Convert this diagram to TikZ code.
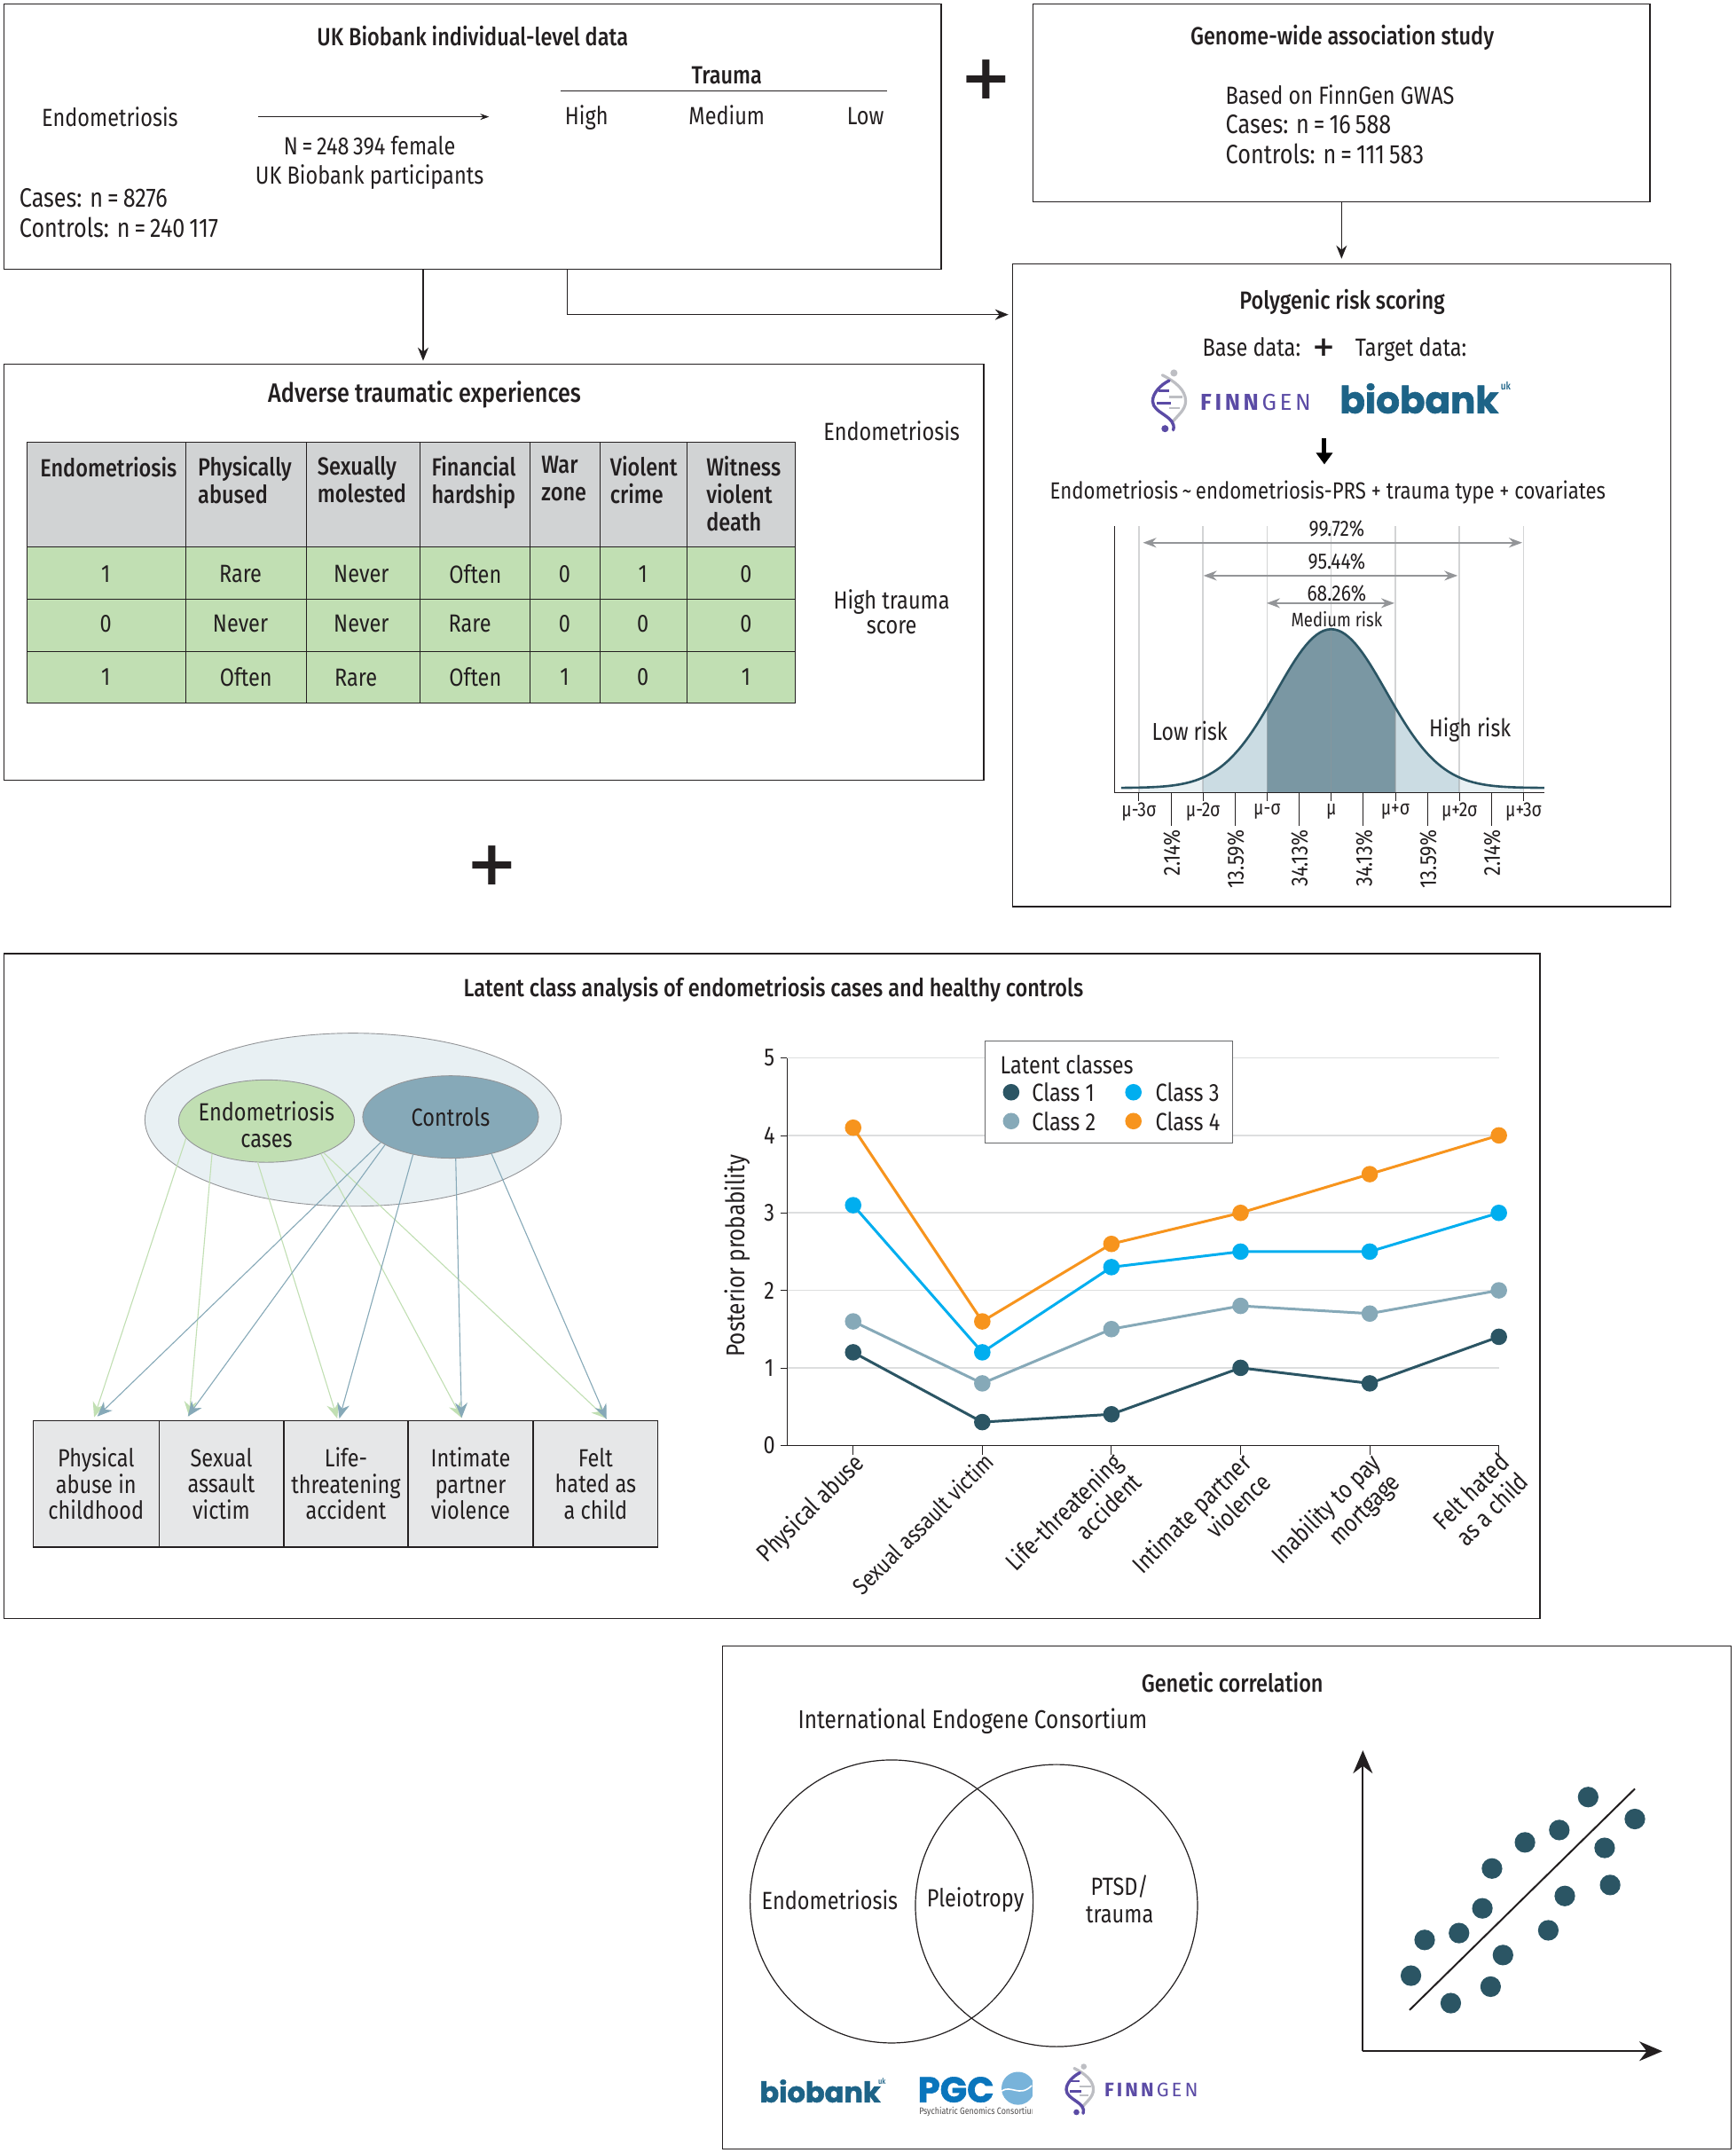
\documentclass[tikz,border=0pt]{standalone}
\usepackage{fontspec}
\setmainfont[FakeStretch=0.84,BoldFont={Fira Sans Medium}]{Fira Sans}
\newfontfamily\plusfont{DejaVu Sans}
\newfontfamily\finnfont[LetterSpace=14]{Fira Sans}
\newfontfamily\bioffont[BoldFeatures={FakeBold=1.6}]{Poppins}
\usetikzlibrary{arrows.meta,fit,shapes.geometric,calc}
\definecolor{ink}{HTML}{231F20}
\definecolor{teal}{HTML}{2B5564}
\definecolor{steel}{HTML}{86A9B8}
\definecolor{sky}{HTML}{00AEEF}
\definecolor{orng}{HTML}{F7941D}
\definecolor{leaf}{HTML}{C1DFB3}
\definecolor{headg}{HTML}{D1D3D4}
\definecolor{boxg}{HTML}{E6E7E8}
\definecolor{pale}{HTML}{E8F0F3}
\definecolor{bell2}{HTML}{CBDCE3}
\definecolor{bell1}{HTML}{7A97A3}
\definecolor{gridg}{HTML}{DDDEDF}
\definecolor{midg}{HTML}{939598}
\definecolor{fpurple}{HTML}{5B4BA5}
\definecolor{fgray}{HTML}{BDBEC3}
\definecolor{biob}{HTML}{1D6387}
\definecolor{pgcb}{HTML}{0A75BC}
\newcommand\fnorm{\fontsize{28}{33.5}\selectfont}
\newcommand\fhead{\fontsize{28}{31}\selectfont}
\newcommand\fnum{\fontsize{30}{33.5}\selectfont}
\newcommand\fsmall{\fontsize{25}{27}\selectfont}
\newcommand\frot{\fontsize{26}{27}\selectfont}
\newcommand\fmu{\fontsize{23}{24}\selectfont}
\tikzset{
 panel/.style={draw=ink,line width=1.4pt,inner sep=0pt,fill=white},
 tx/.style={font=\fnorm,text=ink,inner sep=0pt,align=center},
 txl/.style={tx,anchor=west,align=left},
 ttl/.style={tx,font=\fnorm\bfseries},
 hd/.style={tx,font=\fhead\bfseries,anchor=north west,align=left},
 sm/.style={tx,font=\fsmall},
 rot/.style={tx,font=\frot,rotate=90,anchor=east},
 tn/.style={tx,font=\fmu},
 arr/.style={draw=ink,line width=1.4pt,-{Stealth[length=15pt,width=12pt]}},
 garr/.style={draw=midg,line width=1.5pt,{Stealth[length=15pt,width=11pt]}-{Stealth[length=15pt,width=11pt]}},
 gline/.style={draw=leaf,line width=1.1pt,-{Stealth[length=17pt,width=14pt]}},
 bline/.style={draw=steel,line width=1.1pt,-{Stealth[length=17pt,width=14pt]}},
 ell/.style={ellipse,draw=midg,line width=.9pt,inner sep=0pt},
 vbox/.style={rectangle,draw=ink,line width=1.3pt,fill=boxg,font=\fontsize{28}{29.5}\selectfont,text=ink,align=center,inner sep=0pt,minimum height=142.5pt},
 bigplus/.style={font=\plusfont\bfseries\fontsize{70}{70}\selectfont,text=ink,inner sep=0pt},
 smplus/.style={font=\plusfont\bfseries\fontsize{31}{31}\selectfont,text=ink,inner sep=0pt},
 biolabel/.style={text=biob,inner sep=0pt},
 finnpic/.pic={
  \draw[fgray,line width=3.2pt,line cap=round] (-5,-19) .. controls (5,-14) and (12,-8) .. (12,0) .. controls (12,7) and (5,11) .. (2,16);
  \fill[fgray] (3.5,-20.5) circle (2.6);
  \draw[fgray,line width=2.4pt] (0,-3) -- (10,-3) (0,5) -- (8,5);
  \draw[fpurple,line width=3.4pt,line cap=round] (0,-15) .. controls (-6,-12) and (-12,-6) .. (-12,0) .. controls (-12,9) and (6,11) .. (3,21);
  \fill[fpurple] (-3,20) circle (2.6);
  \draw[fpurple,line width=2.4pt] (-8,-7.5) -- (0,-7.5) (-9,1.5) -- (1,1.5);
 }
}
\newcommand\series[7]{%
 \draw[draw=#1,line width=3pt] (621,#2) -- (715,#3) -- (809,#4) -- (903,#5) -- (997,#6) -- (1091,#7);
 \fill[#1] (621,#2) circle (6) (715,#3) circle (6) (809,#4) circle (6) (903,#5) circle (6) (997,#6) circle (6) (1091,#7) circle (6);
}
\begin{document}
\begin{tikzpicture}[x=1.5487pt,y=-1.5487pt]
\useasboundingbox (0,0) rectangle (1263,1567.1);
\fill[white] (0,0) rectangle (1263,1567.1);
% panels
\node[panel,fit={(3,3)(685,196)}] (uk) {};
\node[panel,fit={(752,3)(1201,147)}] (gwas) {};
\node[panel,fit={(737,192)(1216,660)}] (prs) {};
\node[panel,fit={(3,265)(716,568)}] (ate) {};
\node[panel,fit={(3,694)(1121,1178)}] (lca) {};
\node[panel,fit={(526,1198)(1260,1564)}] (gc) {};
% UK Biobank
\node[ttl] (uktitle) at (344,26.5) {UK Biobank individual-level data};
\node[tx] (ukendo) at (80,85) {Endometriosis};
\node[tx] (ukn) at (269,118.5) {N\,=\,248\,394 female\\UK Biobank participants};
\node[txl,font=\fnum] (ukcases) at (14,155) {Cases: n\,=\,8276\\Controls: n\,=\,240\,117};
\node[ttl] (ukt) at (529,55) {Trauma};
\node[tx,anchor=base] (ukhi) at (427,91) {High};
\node[tx,anchor=base] (ukme) at (529,91) {Medium};
\node[tx,anchor=base] (uklo) at (630,91) {Low};
\coordinate (ukla) at (408,66); \coordinate (uklb) at (646,66);
\draw[draw=ink,line width=.8pt] (ukla) -- (uklb);
\coordinate (uka) at (188,85); \coordinate (ukb) at (356,85);
\draw[draw=ink,line width=.8pt,-{Stealth[length=10pt,width=7pt]}] (uka) -- (ukb);
% GWAS
\node[ttl] (gwtitle) at (977,27.5) {Genome-wide association study};
\node[txl,font=\fnum] (gwtext) at (892,90.5) {\fontsize{28}{33.5}\selectfont Based on FinnGen GWAS\\Cases: n\,=\,16\,588\\Controls: n\,=\,111\,583};
% pluses
\node[bigplus] (p1) at (718,58) {+};
\node[bigplus] (p2) at (358,630) {+};
% connectors
\coordinate (ua) at (308,196);
\draw[arr,shorten >=3pt] (ua) -- (ua |- ate.north);
\coordinate (ub) at (413,196); \coordinate (ubb) at (734,229);
\draw[arr] (ub) |- (ubb);
\draw[arr,shorten >=5pt] (gwas.south) -- (prs.north);
% ATE
\node[tx,font=\fontsize{30}{33}\selectfont\bfseries] (atetitle) at (309,287) {Adverse traumatic experiences};
\fill[headg] (19.5,322) rectangle (579,398);
\fill[leaf] (19.5,398) rectangle (579,512);
\draw[draw=ink,line width=1pt] (19.5,322) rectangle (579,512);
\foreach \yy in {398,436,474} \draw[draw=ink,line width=1pt] (19.5,\yy) -- (579,\yy);
\foreach \xx in {135,223,306,386,437,500} \draw[draw=ink,line width=1pt] (\xx,322) -- (\xx,512);
\begin{scope}[every node/.style={tx}]
\node[ttl] (h0) at (79,340) {Endometriosis};
\node[hd] (h1) at (144,332) {Physically\\abused};
\node[hd] (h2) at (231,332) {Sexually\\molested};
\node[hd] (h3) at (314,332) {Financial\\hardship};
\node[hd] (h4) at (394,332) {War\\zone};
\node[hd] (h5) at (444,332) {Violent\\crime};
\node[hd] (h6) at (514,332) {Witness\\violent\\death};
\node (r1a) at (77,418) {1}; \node (r1b) at (175,418) {Rare}; \node (r1c) at (263,418) {Never}; \node (r1d) at (346,418) {Often}; \node (r1e) at (411,418) {0}; \node (r1f) at (468,418) {1}; \node (r1g) at (543,418) {0};
\node (r2a) at (77,454) {0}; \node (r2b) at (175,454) {Never}; \node (r2c) at (263,454) {Never}; \node (r2d) at (342,454) {Rare}; \node (r2e) at (411,454) {0}; \node (r2f) at (468,454) {0}; \node (r2g) at (543,454) {0};
\node (r3a) at (77,493) {1}; \node (r3b) at (179,493) {Often}; \node (r3c) at (259,493) {Rare}; \node (r3d) at (346,493) {Often}; \node (r3e) at (411,493) {1}; \node (r3f) at (468,493) {0}; \node (r3g) at (543,493) {1};
\end{scope}
\node[tx] (ateendo) at (649,313.5) {Endometriosis};
\node[tx,font=\fontsize{28}{28}\selectfont] (atehigh) at (649,445.5) {High trauma\\score};
% PRS
\node[ttl] (prstitle) at (977,220) {Polygenic risk scoring};
\node[tx,anchor=base] (base) at (911,259) {Base data:};
\node[smplus] (p3) at (964,253) {+};
\node[tx,anchor=base] (target) at (1027,259) {Target data:};
\pic at (851,292) {finnpic};
\node[inner sep=0pt,text=fpurple,font=\finnfont\fontsize{26}{26}\selectfont] (finn1) at (914,293) {\textbf{FINN}GEN};
\node[biolabel,font=\bioffont\bfseries\fontsize{42}{42}\selectfont] (bio1) at (1033,290) {biobank};
\node[inner sep=0pt,text=biob,font=\bfseries\fontsize{12}{12}\selectfont] (bio1uk) at (1096,281) {uk};
\coordinate (da) at (964,319); \coordinate (db) at (964,338);
\draw[draw=black,line width=5pt,-{Triangle[length=13pt,width=18pt]}] (da) -- (db);
\node[tx,font=\fontsize{26.4}{30}\selectfont] (formula) at (966.5,358.5) {Endometriosis\,\textasciitilde\,endometriosis-PRS + trauma type + covariates};
% bell curve
\newcommand\bell{573.5-115.5*exp(-((\x-969)/40)*((\x-969)/40)/2)}
\fill[pale] plot[domain=829:1109,samples=70] (\x,{\bell}) -- (1109,577) -- (829,577) -- cycle;
\fill[bell2] plot[domain=875.7:1062.3,samples=60] (\x,{\bell}) -- (1062.3,577) -- (875.7,577) -- cycle;
\fill[bell1] plot[domain=922.3:1015.7,samples=50] (\x,{\bell}) -- (1015.7,577) -- (922.3,577) -- cycle;
\foreach \xx in {829,875.7,922.3,969,1015.7,1062.3,1109} {
 \draw[draw=midg,opacity=.4,line width=1.5pt] (\xx,383) -- (\xx,577);
 \draw[draw=ink,line width=.9pt] (\xx,577) -- (\xx,583);
}
\draw[draw=teal,line width=2.6pt] plot[domain=816:1124,samples=120] (\x,{\bell});
\draw[draw=ink,line width=1pt] (811,383) -- (811,577) -- (1124,577);
\foreach \xx in {852.5,899,945.7,992.3,1038.9,1085.6} \draw[draw=ink,line width=.9pt] (\xx,577) -- (\xx,601);
\node[sm] (l99) at (973,385) {99.72\%};
\node[sm] (l95) at (973,409) {95.44\%};
\node[sm] (l68) at (973,432) {68.26\%};
\node[tx,font=\fontsize{22}{24}\selectfont] (lmed) at (973,451) {Medium risk};
\coordinate (a99) at (832,395); \coordinate (b99) at (1108,395);
\coordinate (a95) at (876,419); \coordinate (b95) at (1061,419);
\coordinate (a68) at (922,439); \coordinate (b68) at (1015,439);
\draw[garr] (a99) -- (b99); \draw[garr] (a95) -- (b95); \draw[garr] (a68) -- (b68);
\node[tx,font=\fontsize{27.5}{28}\selectfont] (lowr) at (866,532) {Low risk};
\node[tx,font=\fontsize{27.5}{28}\selectfont] (highr) at (1070,531) {High risk};
\node[tn] (m1) at (829,591) {μ-3σ};
\node[tn] (m2) at (875.7,591) {μ-2σ};
\node[tn] (m3) at (922.3,591) {μ-σ};
\node[tn] (m4) at (969,591) {μ};
\node[tn] (m5) at (1015.7,591) {μ+σ};
\node[tn] (m6) at (1062.3,591) {μ+2σ};
\node[tn] (m7) at (1109,591) {μ+3σ};
\node[rot] (q1) at (853,604) {2.14\%};
\node[rot] (q2) at (899.5,604) {13.59\%};
\node[rot] (q3) at (946,604) {34.13\%};
\node[rot] (q4) at (993,604) {34.13\%};
\node[rot] (q5) at (1039.5,604) {13.59\%};
\node[rot] (q6) at (1086,604) {2.14\%};
% LCA
\node[ttl] (lcatitle) at (563,720) {Latent class analysis of endometriosis cases and healthy controls};
\node[ell,fill=pale,minimum width=469.3pt,minimum height=195.1pt] (outer) at (257,815) {};
\node[ell,fill=leaf,minimum width=198.2pt,minimum height=92.9pt] (endo) at (194,816) {};
\node[tx,font=\fontsize{28}{29.5}\selectfont] (endot) at (194,818.5) {Endometriosis\\cases};
\node[ell,fill=steel,minimum width=198.2pt,minimum height=92.9pt,font=\fnorm,text=ink] (ctrl) at (328,813) {Controls};
\node[vbox,minimum width=142pt] (v1) at (69.9,1080) {Physical\\abuse in\\childhood};
\node[vbox,minimum width=140.6pt] (v2) at (161.1,1080) {Sexual\\assault\\victim};
\node[vbox,minimum width=140.2pt] (v3) at (251.8,1080) {Life-\\threatening\\accident};
\node[vbox,minimum width=140.9pt] (v4) at (342.5,1080) {Intimate\\partner\\violence};
\node[vbox,minimum width=140.9pt] (v5) at (433.5,1080) {Felt\\hated as\\a child};
\coordinate (tg1) at (68.5,1031.6); \coordinate (tg2) at (137.7,1031);
\coordinate (tg3) at (245.5,1032.5); \coordinate (tg4) at (336,1032);
\coordinate (tg5) at (441.5,1032.5);
\coordinate (tb1) at (70.8,1031); \coordinate (tb2) at (136.7,1031);
\coordinate (tb3) at (247,1032.5); \coordinate (tb4) at (336,1032);
\coordinate (tb5) at (441.5,1033);
\draw[gline] (endo.192) -- (tg1);
\draw[gline] (endo.211) -- (tg2);
\draw[gline] (endo.258.6) -- (tg3);
\draw[gline] (endo.329) -- (tg4);
\draw[gline] (endo.331) -- (tg5);
\draw[bline] (ctrl.200.8) -- (tb1);
\draw[bline] (ctrl.203.6) -- (tb2);
\draw[bline] (ctrl.225.6) -- (tb3);
\draw[bline] (ctrl.277) -- (tb4);
\draw[bline] (ctrl.318) -- (tb5);
% chart
\foreach \v in {1,2,3,4,5}{
 \draw[draw=gridg,line width=1.5pt] (573,{1052-56.4*\v}) -- (1091,{1052-56.4*\v});
}
\foreach \v in {0,...,5}{
 \draw[draw=ink,line width=.7pt] (568,{1052-56.4*\v}) -- (573,{1052-56.4*\v});
 \node[tx] (yl\v) at (560,{1052-56.4*\v}) {\v};
}
\draw[draw=ink,line width=1pt] (573,770) -- (573,1052) -- (1091,1052);
\foreach \xx in {621,715,809,903,997,1091} \draw[draw=ink,line width=.9pt] (\xx,1052) -- (\xx,1059);
\node[tx,rotate=90,font=\fontsize{29}{30}\selectfont] (yaxis) at (537,914) {Posterior probability};
\series{teal}{984.3}{1035.1}{1029.4}{995.6}{1006.9}{973}
\series{steel}{961.8}{1006.9}{967.4}{950.5}{956.1}{939.2}
\series{sky}{877.2}{984.3}{922.3}{911}{911}{882.8}
\series{orng}{820.8}{961.8}{905.4}{882.8}{854.6}{826.4}
\node[draw=midg!70!black,line width=1pt,fill=white,inner sep=0pt,fit={(717,758)(897,832)}] (legend) {};
\node[txl] (legt) at (728,775) {Latent classes};
\fill[teal] (736,795) circle (6); \fill[steel] (736,816) circle (6);
\fill[sky] (825,795) circle (6); \fill[orng] (825,816) circle (6);
\node[txl] (c1) at (751,795) {Class 1};
\node[txl] (c2) at (751,816) {Class 2};
\node[txl] (c3) at (841,795) {Class 3};
\node[txl] (c4) at (841,816) {Class 4};
\begin{scope}[every node/.style={tx,font=\fontsize{28}{31}\selectfont,rotate=45,anchor=north east,align=right}]
\node (x1) at (620,1056) {Physical abuse};
\node[font=\fontsize{26.5}{31}\selectfont] (x2) at (715,1056) {Sexual assault victim};
\node (x3) at (808,1056) {Life-threatening\\accident};
\node (x4) at (902,1056) {Intimate partner\\violence};
\node (x5) at (996,1056) {Inability to pay\\mortgage};
\node (x6) at (1090,1056) {Felt hated\\as a child};
\end{scope}
% Genetic correlation
\node[ttl] (gctitle) at (897,1224.5) {Genetic correlation};
\node[tx,font=\fontsize{29}{33}\selectfont] (iec) at (708,1253) {International Endogene Consortium};
\node[circle,draw=ink,line width=1.2pt,inner sep=0pt,minimum size=319pt] (vl) at (649,1384) {};
\node[circle,draw=ink,line width=1.2pt,inner sep=0pt,minimum size=318pt] (vr) at (769,1387) {};
\node[tx] (ve) at (604,1383) {Endometriosis};
\node[tx] (vp) at (710,1383) {Pleiotropy};
\node[tx,font=\fontsize{28}{31}\selectfont] (vt) at (815,1382.5) {PTSD/\\trauma};
\node[biolabel,font=\bioffont\bfseries\fontsize{32}{32}\selectfont] (bio2) at (597,1522) {biobank};
\node[inner sep=0pt,text=biob,font=\bfseries\fontsize{9}{9}\selectfont] (bio2uk) at (642,1515) {uk};
\node[inner sep=0pt,anchor=west,text=pgcb,font=\bioffont\bfseries\fontsize{40}{40}\selectfont] (pgc) at (668,1521) {PGC};
\begin{scope}
\clip (669,1505) rectangle (751.5,1542);
\fill[pgcb!55!white] (741,1520) circle (12);
\draw[white,line width=1.6pt] (729,1522) .. controls (736,1517) and (742,1527) .. (751,1518);
\node[inner sep=0pt,text=ink!80!white,anchor=west,font=\fontsize{10.6}{11}\selectfont] (pgcs) at (669,1537) {Psychiatric Genomics Consortium};
\end{scope}
\pic[scale=.82] at (786,1521) {finnpic};
\node[inner sep=0pt,text=fpurple,font=\finnfont\fontsize{22}{22}\selectfont] (finn2) at (838,1521) {\textbf{FINN}GEN};
% scatter
\coordinate (sc0) at (992,1493); \coordinate (scy) at (992,1274); \coordinate (scx) at (1210,1493);
\draw[draw=ink,line width=2pt,-{Stealth[length=26pt,width=22pt]}] (sc0) -- (scy);
\draw[draw=ink,line width=2pt,-{Stealth[length=26pt,width=22pt]}] (sc0) -- (scx);
\coordinate (sl1) at (1026,1463); \coordinate (sl2) at (1190,1302);
\draw[draw=ink,line width=2pt] (sl1) -- (sl2);
\foreach \px/\py in {1027/1438,1037/1412,1056/1458,1062/1407,1079/1389,1085/1446,1094/1423,1086/1360,1110/1341,1127/1405,1135/1332,1139/1380,1156/1308,1168/1345,1172/1372,1190/1324}
 \fill[teal] (\px,\py) circle (7.5);
\end{tikzpicture}
\end{document}
